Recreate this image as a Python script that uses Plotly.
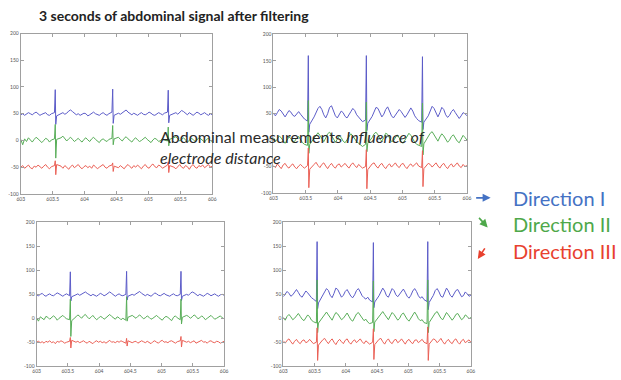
import numpy as np
import plotly.graph_objects as go

# ---------------- data ----------------
beat_idx = [18, 48, 77]          # sample index of each R peak
t = 603 + 0.03 * np.arange(101)  # time axis, seconds
for s in beat_idx:               # denser sampling around each sharp spike
    t[s - 1] = t[s] - 0.012
    t[s + 1] = t[s] + 0.008
    t[s + 2] = t[s] + 0.022

tl_blue = [48,50,47,49,52,50,48,51,53,50,47,49,50,52,48,47,50,52,
           95,30,
           46,50,52,49,51,55,57,54,50,48,50,47,49,51,50,46,48,51,53,50,48,47,50,52,49,47,50,53,
           96,32,
           47,51,49,52,54,57,53,50,48,51,49,47,50,52,49,48,50,53,51,48,47,50,52,50,48,51,53,
           94,33,
           47,50,52,49,53,56,54,50,48,52,49,47,50,53,51,48,50,52,49,47,50,48]
tl_green = [2,-8,3,-2,5,1,-3,2,6,3,-1,-4,0,4,2,-3,1,3,
            30,-33,
            2,5,8,4,-1,3,6,2,-2,1,4,0,-3,2,5,1,-2,3,6,2,-1,-4,1,3,0,-2,2,4,
            28,-8,
            3,6,2,-1,4,7,3,0,-3,2,5,1,-2,0,3,6,2,-1,-4,1,4,2,-2,0,3,1,-1,
            25,-10,
            2,5,7,3,-1,2,5,1,-3,0,4,2,-2,1,5,3,-1,-3,2,4,0,-2]
tl_red = [-50,-47,-52,-49,-46,-51,-53,-48,-50,-46,-49,-52,-48,-45,-50,-53,-49,-47,
          -38,-64,
          -45,-48,-52,-47,-50,-54,-49,-46,-51,-48,-45,-50,-53,-49,-47,-51,-48,-52,-46,-49,-53,-50,-47,-45,-50,-52,-48,-46,
          -42,-58,
          -48,-51,-47,-50,-53,-48,-45,-49,-52,-47,-50,-46,-49,-53,-48,-45,-50,-52,-47,-44,-49,-51,-46,-48,-52,-49,-46,
          -40,-60,
          -47,-50,-53,-48,-45,-50,-52,-47,-49,-54,-48,-45,-50,-52,-47,-49,-46,-51,-48,-45,-50,-48]

tr_blue = [50,46,52,58,55,48,44,50,56,53,47,45,50,54,49,44,40,36,
           160,15,
           30,44,52,60,64,58,48,42,50,62,65,56,46,42,48,55,52,45,42,47,54,60,56,48,44,40,35,38,
           160,18,
           32,45,54,62,60,50,44,49,58,63,55,46,42,47,53,58,54,47,43,48,56,61,55,46,41,37,34,
           158,20,
           34,46,56,64,60,50,44,52,62,58,48,43,47,54,58,52,45,41,46,52,50,46]
tr_green = [5,-3,2,8,4,-2,-6,0,6,3,-4,-2,4,7,1,-5,-8,-10,
            75,-25,
            -8,4,10,14,9,2,-3,4,12,15,8,0,-4,2,8,5,-2,-5,0,7,12,8,1,-3,-6,-9,-12,-8,
            72,-22,
            -6,5,12,15,10,2,-2,5,13,11,3,-3,-1,6,10,4,-3,-6,0,8,13,9,2,-4,-8,-10,-12,
            70,-28,
            -7,6,13,16,10,3,-2,6,12,8,1,-4,0,7,10,4,-2,-5,2,9,5,0]
tr_red = [-48,-52,-45,-50,-54,-47,-44,-50,-53,-48,-45,-51,-54,-49,-46,-50,-53,-48,
          -15,-90,
          -55,-46,-42,-48,-52,-46,-43,-49,-54,-48,-44,-50,-53,-47,-45,-51,-48,-44,-49,-53,-47,-43,-48,-52,-46,-49,-53,-50,
          -18,-92,
          -56,-45,-43,-49,-53,-47,-44,-50,-54,-48,-45,-51,-47,-43,-49,-52,-46,-44,-50,-54,-48,-45,-50,-46,-43,-49,-52,
          -20,-88,
          -54,-44,-46,-51,-47,-43,-49,-53,-47,-44,-50,-54,-48,-45,-51,-47,-43,-49,-52,-46,-50,-48]

bl_blue = [49,47,50,52,48,46,49,51,48,47,50,53,51,48,46,49,51,47,
           97,36,
           45,49,51,48,50,53,55,52,49,47,50,48,46,49,52,50,47,49,53,55,52,48,46,49,51,48,47,50,
           98,38,
           46,50,48,51,54,56,52,49,47,50,48,46,49,53,51,48,47,50,52,49,47,46,49,51,48,47,50,
           98,37,
           46,50,48,52,55,53,49,47,50,48,46,49,52,50,47,49,51,48,46,49,50,48]
bl_green = [1,-6,3,0,-3,4,2,-2,1,5,2,-4,0,3,6,2,-1,-3,
            40,-38,
            -5,3,7,4,0,5,8,3,-1,2,6,1,-3,0,4,2,-2,1,5,8,4,0,-2,3,1,-3,0,-4,
            45,-6,
            2,6,3,0,4,7,3,-1,1,5,2,-2,0,3,6,2,-1,-4,1,4,2,-1,-5,2,5,1,-3,
            40,-12,
            2,6,4,0,3,7,4,-1,1,5,2,-3,0,4,6,2,-2,0,3,5,1,-1]
bl_red = [-50,-48,-51,-49,-52,-48,-50,-47,-51,-49,-53,-48,-50,-47,-49,-52,-50,-48,
          -40,-62,
          -46,-50,-48,-51,-49,-47,-50,-52,-48,-50,-53,-49,-47,-50,-48,-51,-49,-52,-48,-46,-50,-49,-51,-48,-50,-47,-49,-52,
          -42,-58,
          -47,-51,-49,-48,-52,-50,-47,-49,-51,-48,-50,-53,-49,-47,-50,-52,-48,-46,-50,-49,-51,-48,-47,-50,-52,-49,-47,
          -38,-60,
          -46,-50,-48,-51,-49,-47,-52,-50,-48,-46,-50,-49,-52,-48,-47,-50,-51,-48,-49,-52,-50,-48]

br_blue = [45,50,56,52,46,49,55,60,54,47,44,50,57,53,47,43,40,35,
           160,20,
           32,46,55,62,58,48,43,52,63,60,50,44,48,56,60,53,46,43,49,58,62,55,47,43,40,44,38,34,
           158,22,
           34,47,56,63,57,47,44,53,62,58,49,45,50,57,61,54,46,42,48,57,62,56,47,42,45,39,35,
           160,18,
           33,48,58,62,55,46,44,54,63,57,48,44,50,58,60,52,45,47,55,51,46,48]
br_green = [2,-4,4,8,3,-3,0,6,10,4,-2,-5,1,7,3,-4,-7,-10,
            80,-30,
            -10,3,9,13,7,0,-4,5,12,9,2,-3,0,7,11,4,-3,-6,1,9,12,6,-1,-5,-2,-8,-11,-9,
            78,-28,
            -8,4,10,14,8,1,-3,5,12,8,1,-4,0,8,11,4,-2,-6,1,9,13,7,-1,-5,-3,-9,-11,
            80,-30,
            -9,5,11,14,7,0,-3,6,12,7,0,-4,1,8,10,3,-3,0,7,4,-1,2]
br_red = [-47,-52,-46,-43,-49,-54,-48,-44,-50,-53,-47,-45,-51,-49,-44,-48,-53,-50,
          -20,-88,
          -56,-45,-42,-48,-53,-47,-43,-50,-55,-48,-44,-49,-53,-46,-43,-50,-54,-48,-45,-51,-47,-43,-49,-53,-47,-50,-54,-50,
          -22,-86,
          -55,-44,-42,-49,-54,-47,-43,-50,-53,-46,-44,-51,-48,-43,-49,-54,-47,-44,-50,-53,-46,-45,-51,-47,-44,-50,-53,
          -18,-88,
          -54,-43,-45,-51,-47,-42,-49,-54,-48,-44,-50,-53,-46,-43,-50,-54,-47,-44,-51,-48,-45,-50]

x_ticks = [603, 603.5, 604, 604.5, 605, 605.5, 606]
x_tick_labels = ["603", "603.5", "604", "604.5", "605", "605.5", "606"]
y_ticks = [-100, -50, 0, 50, 100, 150, 200]
y_tick_labels = ["-100", "-50", "0", "50", "100", "150", "200"]

title_text = "3 seconds of abdominal signal after filtering"
overlay_line1 = "Abdominal measurements <i>Influence of</i>"
overlay_line2 = "<i>electrode distance</i>"
direction_labels = ["Direction I", "Direction II", "Direction III"]

# ---------------- styling ----------------
W, H = 621, 380
C_BLUE, C_GREEN, C_RED = "#5c5cc8", "#58ad58", "#ea6056"
LBL = ["#4472c4", "#4ea84a", "#e8412f"]

panels = [  # (left, right, top, bottom) in px
    (17, 211, 31, 194),
    (273, 469, 32, 193),
    (33, 223, 223, 369),
    (283, 473, 223, 369),
]
series = [
    (tl_blue, tl_green, tl_red),
    (tr_blue, tr_green, tr_red),
    (bl_blue, bl_green, bl_red),
    (br_blue, br_green, br_red),
]

fig = go.Figure()
layout = dict(width=W, height=H, margin=dict(l=0, r=0, t=0, b=0),
              paper_bgcolor="white", plot_bgcolor="white", showlegend=False,
              font=dict(family="Lato, sans-serif"))

for k, ((l, r, tp, bt), trs) in enumerate(zip(panels, series)):
    n = "" if k == 0 else str(k + 1)
    for vals, col in zip(trs, (C_BLUE, C_GREEN, C_RED)):
        fig.add_trace(go.Scatter(x=t, y=vals, mode="lines",
                                 line=dict(color=col, width=1),
                                 xaxis="x" + n, yaxis="y" + n,
                                 hoverinfo="skip"))
    common = dict(showline=True, linecolor="#a0a0a0", linewidth=1, mirror="ticks",
                  ticks="inside", ticklen=3, tickcolor="#a0a0a0",
                  showgrid=False, zeroline=False,
                  tickfont=dict(size=5, color="#555555"))
    layout["xaxis" + n] = dict(domain=[l / W, r / W], anchor="y" + n,
                               range=[603, 606], tickvals=x_ticks,
                               ticktext=x_tick_labels, **common)
    layout["yaxis" + n] = dict(domain=[1 - bt / H, 1 - tp / H], anchor="x" + n,
                               range=[-100, 200], tickvals=y_ticks,
                               ticktext=y_tick_labels, **common)

ann = []
ann.append(dict(text="<b>" + title_text + "</b>", x=33 / W, y=1 - 13 / H,
                xref="paper", yref="paper", xanchor="left", yanchor="middle",
                showarrow=False, font=dict(size=14, color="#222222",
                                           family="Lato, sans-serif")))
ann.append(dict(text=overlay_line1, x=156 / W, y=1 - 136 / H,
                xref="paper", yref="paper", xanchor="left", yanchor="middle",
                showarrow=False, font=dict(size=16, color="#2a2a2a")))
ann.append(dict(text=overlay_line2, x=156 / W, y=1 - 157 / H,
                xref="paper", yref="paper", xanchor="left", yanchor="middle",
                showarrow=False, font=dict(size=16, color="#2a2a2a")))
label_y = [198, 225, 252]
for lab, yy, col in zip(direction_labels, label_y, LBL):
    ann.append(dict(text=lab, x=514 / W, y=1 - yy / H, xref="paper", yref="paper",
                    xanchor="left", yanchor="middle", showarrow=False,
                    font=dict(size=20, color=col)))
# arrows (head, tail offset)
arrows = [((493, 198), (-16, 0), LBL[0]),
          ((490, 228), (-10, -11), LBL[1]),
          ((480, 260), (8, -12), LBL[2])]
for (hx, hy), (dx, dy), col in arrows:
    ann.append(dict(text="", x=hx / W, y=1 - hy / H, xref="paper", yref="paper",
                    ax=dx, ay=dy, showarrow=True, arrowhead=2, arrowsize=1,
                    arrowwidth=1.6, arrowcolor=col))
layout["annotations"] = ann
fig.update_layout(**layout)
fig.write_html("out.html")
